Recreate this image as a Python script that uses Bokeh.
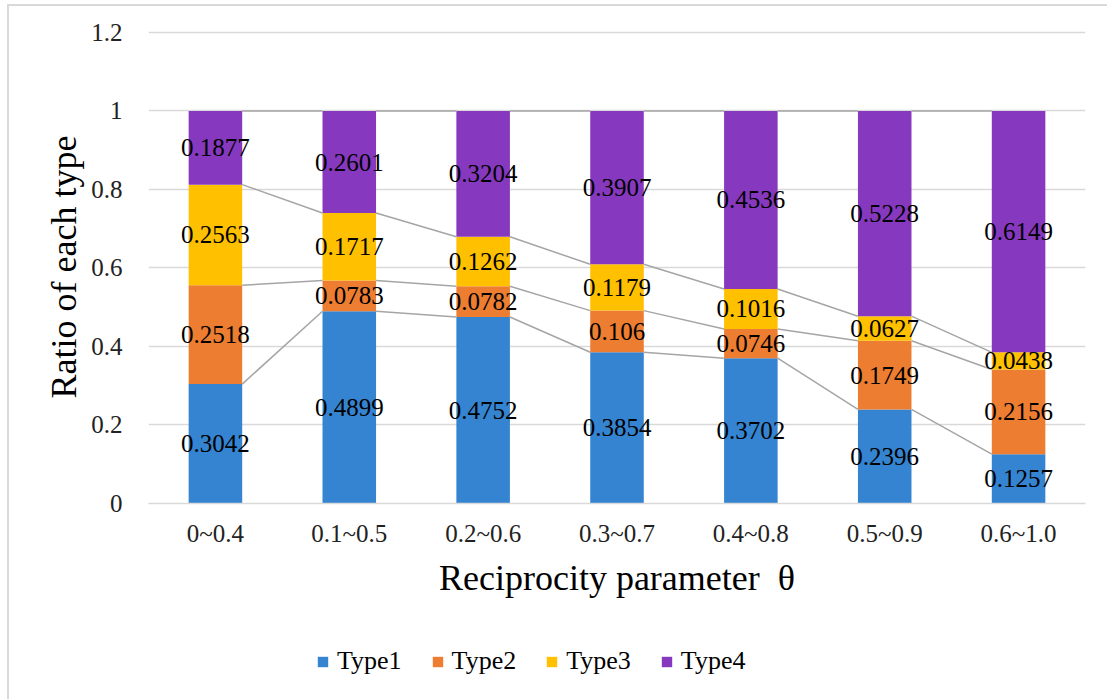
from bokeh.plotting import figure
from bokeh.layouts import column
from bokeh.models import (FactorRange, Range1d, FixedTicker, NumeralTickFormatter,
                          Legend, LegendItem, ColumnDataSource)
from bokeh.core.properties import value
from bokeh.embed import file_html
from bokeh.resources import INLINE

categories = ["0~0.4", "0.1~0.5", "0.2~0.6", "0.3~0.7", "0.4~0.8", "0.5~0.9", "0.6~1.0"]
type1 = [0.3042, 0.4899, 0.4752, 0.3854, 0.3702, 0.2396, 0.1257]
type2 = [0.2518, 0.0783, 0.0782, 0.106, 0.0746, 0.1749, 0.2156]
type3 = [0.2563, 0.1717, 0.1262, 0.1179, 0.1016, 0.0627, 0.0438]
type4 = [0.1877, 0.2601, 0.3204, 0.3907, 0.4536, 0.5228, 0.6149]
series_names = ["Type1", "Type2", "Type3", "Type4"]
colors = ["#3584D1", "#ED7D31", "#FFC000", "#8639BE"]
y_ticks = [0, 0.2, 0.4, 0.6, 0.8, 1.0, 1.2]

FONT = "Liberation Serif"
series = [type1, type2, type3, type4]
BAR_W = 0.4

# offsets due to the outer border drawn by CSS (left 7 + 2, top 4 + 2)
DX, DY = 9, 6
W = 1107 - DX
H1 = 620
H2 = 699 - DY - H1

p = figure(width=W, height=H1, output_backend="svg", toolbar_location=None,
           x_range=FactorRange(*categories), y_range=Range1d(0, 1.205),
           min_border_left=148 - DX, min_border_right=22, min_border_top=30 - DY,
           min_border_bottom=H1 - (503 - DY))
p.outline_line_color = None
p.background_fill_color = "white"
p.border_fill_color = "white"

# stacked bars
bottoms = [0.0] * len(categories)
for vals, col in zip(series, colors):
    tops = [b + v for b, v in zip(bottoms, vals)]
    src = ColumnDataSource(dict(x=categories, bottom=bottoms, top=tops))
    p.vbar(x="x", bottom="bottom", top="top", width=BAR_W, source=src,
           fill_color=col, line_color=None)
    bottoms = tops

# series lines
cum = [0.0] * len(categories)
for vals in series:
    cum = [c + v for c, v in zip(cum, vals)]
    x0 = [(categories[i], BAR_W / 2) for i in range(len(categories) - 1)]
    x1 = [(categories[i + 1], -BAR_W / 2) for i in range(len(categories) - 1)]
    p.segment(x0=x0, y0=cum[:-1], x1=x1, y1=cum[1:], line_color="#A5A5A5", line_width=1.5)

# data labels
bottoms = [0.0] * len(categories)
for vals in series:
    mids = [b + v / 2 for b, v in zip(bottoms, vals)]
    p.text(x=categories, y=mids, text=[str(v) for v in vals], text_align="center",
           text_baseline="middle", text_font=value(FONT), text_font_size="25px",
           text_color="black")
    bottoms = [b + v for b, v in zip(bottoms, vals)]

# axes
p.yaxis.ticker = FixedTicker(ticks=y_ticks)
p.yaxis.formatter = NumeralTickFormatter(format="0.[0]")
p.yaxis.axis_line_color = None
p.yaxis.major_tick_line_color = None
p.yaxis.minor_tick_line_color = None
p.yaxis.major_label_standoff = 20
p.yaxis.major_label_text_font = FONT
p.yaxis.major_label_text_font_size = "25px"
p.yaxis.major_label_text_color = "#222222"
p.yaxis.axis_label = "Ratio of each type"
p.yaxis.axis_label_text_font = FONT
p.yaxis.axis_label_text_font_size = "36px"
p.yaxis.axis_label_text_font_style = "normal"
p.yaxis.axis_label_text_color = "black"
p.yaxis.axis_label_standoff = 4

p.xaxis.axis_line_color = "#D9D9D9"
p.xaxis.axis_line_width = 1.5
p.xaxis.major_tick_line_color = None
p.xaxis.minor_tick_line_color = None
p.xaxis.major_label_standoff = 10
p.xaxis.major_label_text_font = FONT
p.xaxis.major_label_text_font_size = "25px"
p.xaxis.major_label_text_color = "#222222"
p.xaxis.axis_label = "Reciprocity parameter\u00a0 θ"
p.xaxis.axis_label_text_font = FONT
p.xaxis.axis_label_text_font_size = "36px"
p.xaxis.axis_label_text_font_style = "normal"
p.xaxis.axis_label_text_color = "black"
p.xaxis.axis_label_standoff = 8

p.xgrid.grid_line_color = None
p.ygrid.grid_line_color = "#D9D9D9"
p.ygrid.grid_line_width = 1.5
p.ygrid.ticker = FixedTicker(ticks=y_ticks)

# legend strip: same series drawn off-view so only their legend swatches show
p2 = figure(width=W, height=H2, output_backend="svg", toolbar_location=None,
            x_range=FactorRange(*categories), y_range=Range1d(5, 6),
            x_axis_type=None, y_axis_type=None, min_border=0)
p2.outline_line_color = None
p2.grid.visible = False
legend_renderers = [p2.vbar(x=categories, top=vals, width=BAR_W, fill_color=c, line_color=None)
                    for vals, c in zip(series, colors)]
legend = Legend(items=[LegendItem(label=n, renderers=[r]) for n, r in zip(series_names, legend_renderers)],
                orientation="horizontal", location=(316 - 148, H2 - (676 - H1 - DY)),
                glyph_width=13, glyph_height=13, label_standoff=8, spacing=29,
                padding=0, margin=0, border_line_color=None, background_fill_alpha=0,
                label_text_font=FONT, label_text_font_size="26px", label_text_color="black")
p2.add_layout(legend, "center")

layout = column(p, p2, spacing=0,
                styles={"margin-left": "7px", "margin-top": "4px",
                        "border-left": "2px solid #D9D9D9", "border-top": "2px solid #D9D9D9"})

open("out.html", "w").write(file_html(layout, INLINE))
